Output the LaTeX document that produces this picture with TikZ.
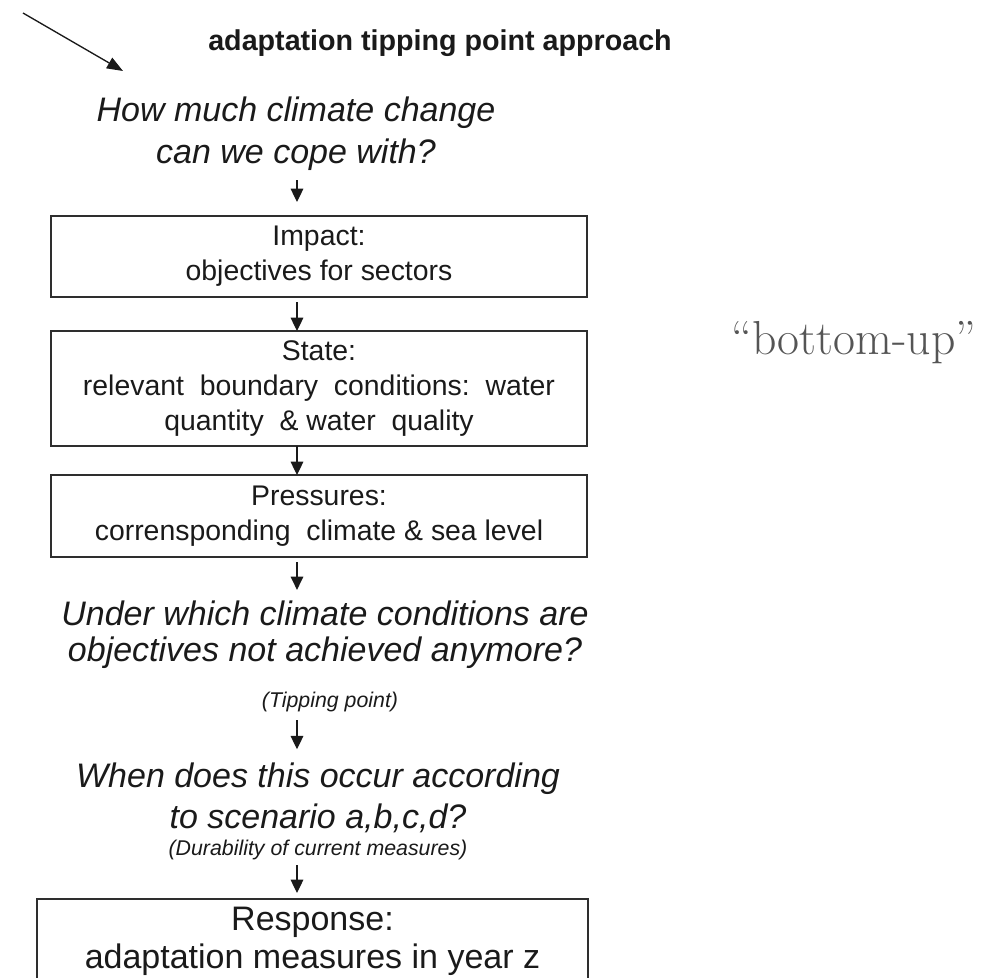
\documentclass[tikz,border=0pt]{standalone}
\usepackage{fontspec}
\newfontfamily\arialfont{Liberation Sans}
\usetikzlibrary{arrows.meta}

\definecolor{inkblack}{HTML}{1A1A1A}
\definecolor{framegray}{HTML}{2E2E2E}
\definecolor{notegray}{HTML}{555555}

\tikzset{
  headline/.style={font=\arialfont\bfseries\fontsize{21.5}{26}\selectfont, text=inkblack, inner sep=0pt},
  question/.style={font=\arialfont\itshape\fontsize{25.5}{#1}\selectfont, text=inkblack, align=center, inner sep=0pt},
  remark/.style={font=\arialfont\itshape\fontsize{16}{19}\selectfont, text=inkblack, inner sep=0pt},
  stagebox/.style={draw=framegray, line width=1.1pt, inner sep=0pt, outer sep=0pt, align=center,
    text=inkblack, font=\arialfont\fontsize{21.3}{26.25}\selectfont},
  flowarrow/.style={-{Triangle[length=10pt,width=9.5pt]}, line width=0.9pt, draw=inkblack},
  leadarrow/.style={-{Triangle[length=12pt,width=9pt]}, line width=1pt, draw=inkblack},
}

\begin{document}
\begin{tikzpicture}[x=0.75pt,y=-0.75pt]
  \useasboundingbox (0,0) rectangle (1000,978);
  \clip (0,0) rectangle (1000,978);
  \fill[white] (0,0) rectangle (1000,978);

  % heading and the lead-in arrow
  \node[headline] (title) at (440,43) {adaptation tipping point approach};
  \coordinate (leadtail) at (23,13);
  \coordinate (leadtip) at (123,71);
  \draw[leadarrow] (leadtail) -- (leadtip);

  % column of questions and DPSIR stages
  \node[question=31.5] (q1) at (296,134) {How much climate change\\can we cope with?};

  \node[stagebox, minimum width=402pt, minimum height=60.75pt] (impact) at (319,256.5)
    {Impact:\\objectives for sectors};
  \node[stagebox, minimum width=402pt, minimum height=86.25pt] (state) at (319,388.5)
    {State:\\relevant\ \ boundary\ \ conditions:\ \ water\\quantity\ \ \& water\ \ quality};
  \node[stagebox, minimum width=402pt, minimum height=61.5pt] (pressures) at (319,516)
    {Pressures:\\corrensponding\ \ climate \& sea level};

  \node[question=27] (q2) at (325,635)
    {Under which climate conditions are\\objectives not achieved anymore?};
  \node[remark] (tipping) at (330,702) {(Tipping point)};

  \node[question=30.75] (q3) at (318,797.5)
    {When does this occur according\\to scenario a,b,c,d?};
  \node[remark] (durability) at (318,850) {(Durability of current measures)};

  \node[stagebox, font=\arialfont\fontsize{25.5}{28.5}\selectfont,
        minimum width=413.25pt, minimum height=63pt] (response) at (312.5,941)
    {Response:\\adaptation measures in year z};

  % side note
  \node[font=\rmfamily\fontsize{35.8}{40}\selectfont, text=notegray, inner sep=0pt] (note) at (854,343)
    {\char"201C bottom-up\char"201D};

  % downward connectors on one common vertical
  \coordinate (axis) at (297,0);
  \draw[flowarrow, shorten <=6.75pt, shorten >=10.5pt] (q1.south -| axis) -- (impact.north -| axis);
  \draw[flowarrow, shorten <=3.75pt] (impact.south -| axis) -- (state.north -| axis);
  \draw[flowarrow] (state.south -| axis) -- (pressures.north -| axis);
  \draw[flowarrow, shorten <=3.75pt, shorten >=8.25pt] (pressures.south -| axis) -- (q2.north -| axis);
  \draw[flowarrow, shorten <=6pt, shorten >=9.75pt] (tipping.south -| axis) -- (q3.north -| axis);
  \draw[flowarrow, shorten <=3.75pt, shorten >=4.5pt] (durability.south -| axis) -- (response.north -| axis);
\end{tikzpicture}
\end{document}
